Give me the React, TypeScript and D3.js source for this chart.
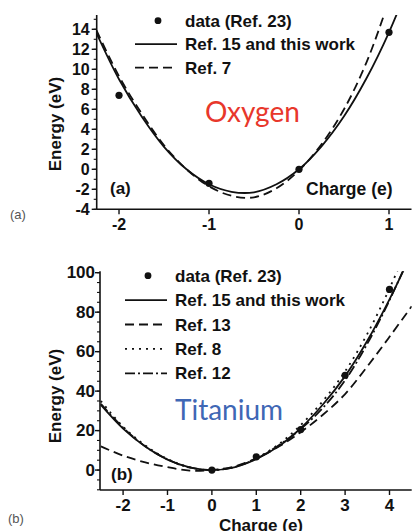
import React from "react";
import * as d3 from "d3";

const FONT = "'Liberation Sans', Arial, Helvetica, sans-serif";
const TITLE_FONT = "Lato, 'Open Sans', sans-serif";

// ---- Panel (a): oxygen ----
const oCharge = [-2.25, -2, -1.75, -1.5, -1.25, -1, -0.75, -0.5, -0.25, 0, 0.25, 0.5, 0.75, 1, 1.25];
const oRef15 = [13.6, 9.0, 5.3, 2.25, 0.0, -1.5, -2.25, -2.3, -1.5, 0, 2.3, 5.3, 9.1, 13.7, 19.2];
const oRef7 = [13.9, 9.3, 5.6, 2.4, 0.0, -1.7, -2.65, -2.8, -1.9, -0.1, 2.5, 6.0, 10.7, 16.9, 23.8];
const oDataCharge = [-2, -1, 0, 1];
const oDataEnergy = [7.4, -1.4, 0, 13.7];
const oYTicks = [-4, -2, 0, 2, 4, 6, 8, 10, 12, 14];
const oXTicks = [-2, -1, 0, 1];
const oLegend = ["data (Ref. 23)", "Ref. 15 and this work", "Ref. 7"];

// ---- Panel (b): titanium ----
const tCharge = [-2.5, -2, -1.5, -1, -0.5, 0, 0.5, 1, 1.5, 2, 2.5, 3, 3.5, 4, 4.5];
const tRef15 = [33, 21, 11.9, 5.3, 1.3, 0, 1.4, 5.5, 12, 21.2, 33.2, 47.6, 65.5, 86.5, 110];
const tRef13 = [12, 7.3, 3.9, 1.5, -0.3, 0, 1.8, 6, 11.8, 19.2, 28, 38.5, 52.5, 67.5, 83];
const tRef8 = [35, 22, 12.5, 5.6, 1.4, 0, 1.5, 6, 13, 22.8, 35, 50, 69, 92, 118];
const tRef12 = [33.5, 21.5, 12, 5.4, 1.3, 0, 1.5, 5.8, 12.5, 20.8, 31.5, 45.5, 64, 86, 111];
const tDataCharge = [0, 1, 2, 3, 4];
const tDataEnergy = [0, 6.7, 20.5, 48, 91.5];
const tYTicks = [0, 20, 40, 60, 80, 100];
const tXTicks = [-2, -1, 0, 1, 2, 3, 4];
const tLegend = ["data (Ref. 23)", "Ref. 15 and this work", "Ref. 13", "Ref. 8", "Ref. 12"];

// line styles
const SOLID = "";
const DASHED = "9 5";
const DOTTED = "2 5";
const DASHDOT = "10 3 2 3";

type Series = { values: number[]; dash: string };

type PanelProps = {
  id: string;
  charge: number[];
  series: Series[];
  dataCharge: number[];
  dataEnergy: number[];
  x: d3.ScaleLinear<number, number>;
  y: d3.ScaleLinear<number, number>;
  yTicks: number[];
  yMinor: number[];
  xTicks: number[];
  tickFont: number;
  yLabelGap: number;
  legend: string[];
  legendDash: string[];
  legendX: number;
  legendY: number;
  legendStep: number;
};

function Panel(p: PanelProps) {
  const [x0, x1] = p.x.range();
  const [y0, y1] = p.y.range();
  const line = d3
    .line<number>()
    .x((_, i) => p.x(p.charge[i]))
    .y((d) => p.y(d))
    .curve(d3.curveCatmullRom.alpha(0.5));
  return (
    <g>
      <defs>
        <clipPath id={p.id}>
          <rect x={x0} y={y1} width={x1 - x0} height={y0 - y1} />
        </clipPath>
      </defs>
      {/* curves */}
      <g clipPath={`url(#${p.id})`}>
        {p.series.map((s, i) => (
          <path
            key={i}
            d={line(s.values) || ""}
            fill="none"
            stroke="#111"
            strokeWidth={1.8}
            strokeDasharray={s.dash || undefined}
          />
        ))}
      </g>
      {/* data points */}
      {p.dataCharge.map((c, i) => (
        <circle key={i} cx={p.x(c)} cy={p.y(p.dataEnergy[i])} r={3.6} fill="#111" />
      ))}
      {/* y axis */}
      <line x1={x0} x2={x0} y1={y0} y2={y1} stroke="#111" strokeWidth={1.6} />
      {p.yMinor.map((v) => (
        <line key={"m" + v} x1={x0 - 3} x2={x0} y1={p.y(v)} y2={p.y(v)} stroke="#111" strokeWidth={1.1} />
      ))}
      {p.yTicks.map((v) => (
        <g key={"y" + v}>
          <line x1={x0 - 5} x2={x0} y1={p.y(v)} y2={p.y(v)} stroke="#111" strokeWidth={1.4} />
          <text
            x={x0 - p.yLabelGap}
            y={p.y(v)}
            textAnchor="end"
            dominantBaseline="central"
            fontFamily={FONT}
            fontWeight={700}
            fontSize={p.tickFont}
            fill="#111"
          >
            {v}
          </text>
        </g>
      ))}
      {/* x axis */}
      <line x1={x0} x2={x1} y1={y0} y2={y0} stroke="#111" strokeWidth={1.6} />
      {p.xTicks.map((v) => (
        <g key={"x" + v}>
          <line x1={p.x(v)} x2={p.x(v)} y1={y0} y2={y0 + 5} stroke="#111" strokeWidth={1.4} />
          <text
            x={p.x(v)}
            y={y0 + 21}
            textAnchor="middle"
            fontFamily={FONT}
            fontWeight={700}
            fontSize={p.tickFont}
            fill="#111"
          >
            {v}
          </text>
        </g>
      ))}
      {/* legend */}
      {p.legend.map((label, i) => {
        const cy = p.legendY + i * p.legendStep;
        return (
          <g key={"l" + i}>
            {i === 0 ? (
              <circle cx={p.legendX - 27} cy={cy} r={3.4} fill="#111" />
            ) : (
              <line
                x1={p.legendX - 50}
                x2={p.legendX - 8}
                y1={cy}
                y2={cy}
                stroke="#111"
                strokeWidth={1.8}
                strokeDasharray={p.legendDash[i] || undefined}
              />
            )}
            <text
              x={p.legendX}
              y={cy + 6}
              fontFamily={FONT}
              fontWeight={700}
              fontSize={17}
              fill="#111"
            >
              {label}
            </text>
          </g>
        );
      })}
    </g>
  );
}

export default function App() {
  // panel (a) scales
  const xA = d3.scaleLinear().domain([-2.248, 1.25]).range([96.7, 411.5]);
  const yA = d3.scaleLinear().domain([-4, 15.43]).range([209.3, 15]);
  // panel (b) scales
  const xB = d3.scaleLinear().domain([-2.52, 4.5]).range([100, 411.7]);
  const yB = d3.scaleLinear().domain([-10.1, 100.7]).range([490, 271.3]);

  return (
    <svg
      width={412}
      height={531}
      viewBox="0 0 412 531"
      style={{ position: "absolute", left: 0, top: 0, background: "#fff" }}
    >
      <rect width={412} height={531} fill="#fff" />

      <Panel
        id="clipA"
        charge={oCharge}
        series={[
          { values: oRef15, dash: SOLID },
          { values: oRef7, dash: DASHED },
        ]}
        dataCharge={oDataCharge}
        dataEnergy={oDataEnergy}
        x={xA}
        y={yA}
        yTicks={oYTicks}
        yMinor={d3.range(-4, 15.1, 1)}
        xTicks={oXTicks}
        tickFont={16}
        yLabelGap={7}
        legend={oLegend}
        legendDash={["", SOLID, DASHED]}
        legendX={185}
        legendY={20.7}
        legendStep={23.5}
      />
      <text x={110} y={194} fontFamily={FONT} fontWeight={700} fontSize={17} fill="#111">
        (a)
      </text>
      <text x={306} y={195} fontFamily={FONT} fontWeight={700} fontSize={17.5} fill="#111">
        Charge (e)
      </text>
      <text
        transform="translate(61,124) rotate(-90)"
        textAnchor="middle"
        fontFamily={FONT}
        fontWeight={700}
        fontSize={17}
        fill="#111"
      >
        Energy (eV)
      </text>
      <text x={205} y={121.7} fontFamily={TITLE_FONT} fontSize={28} fill="#e8372b">
        Oxygen
      </text>
      <text x={10} y={219} fontFamily={FONT} fontSize={13} fill="#555">
        (a)
      </text>

      <Panel
        id="clipB"
        charge={tCharge}
        series={[
          { values: tRef15, dash: SOLID },
          { values: tRef13, dash: DASHED },
          { values: tRef8, dash: DOTTED },
          { values: tRef12, dash: DASHDOT },
        ]}
        dataCharge={tDataCharge}
        dataEnergy={tDataEnergy}
        x={xB}
        y={yB}
        yTicks={tYTicks}
        yMinor={d3.range(-10, 101, 5)}
        xTicks={tXTicks}
        tickFont={17}
        yLabelGap={5}
        legend={tLegend}
        legendDash={["", SOLID, DASHED, DOTTED, DASHDOT]}
        legendX={175}
        legendY={275.7}
        legendStep={24.4}
      />
      <text x={111} y={480} fontFamily={FONT} fontWeight={700} fontSize={17} fill="#111">
        (b)
      </text>
      <text x={261} y={530.5} textAnchor="middle" fontFamily={FONT} fontWeight={700} fontSize={17} fill="#111">
        Charge (e)
      </text>
      <text
        transform="translate(61,396) rotate(-90)"
        textAnchor="middle"
        fontFamily={FONT}
        fontWeight={700}
        fontSize={17}
        fill="#111"
      >
        Energy (eV)
      </text>
      <text x={175} y={420} fontFamily={TITLE_FONT} fontSize={28} fill="#3f67b5">
        Titanium
      </text>
      <text x={8} y={523} fontFamily={FONT} fontSize={13} fill="#555">
        (b)
      </text>
    </svg>
  );
}
